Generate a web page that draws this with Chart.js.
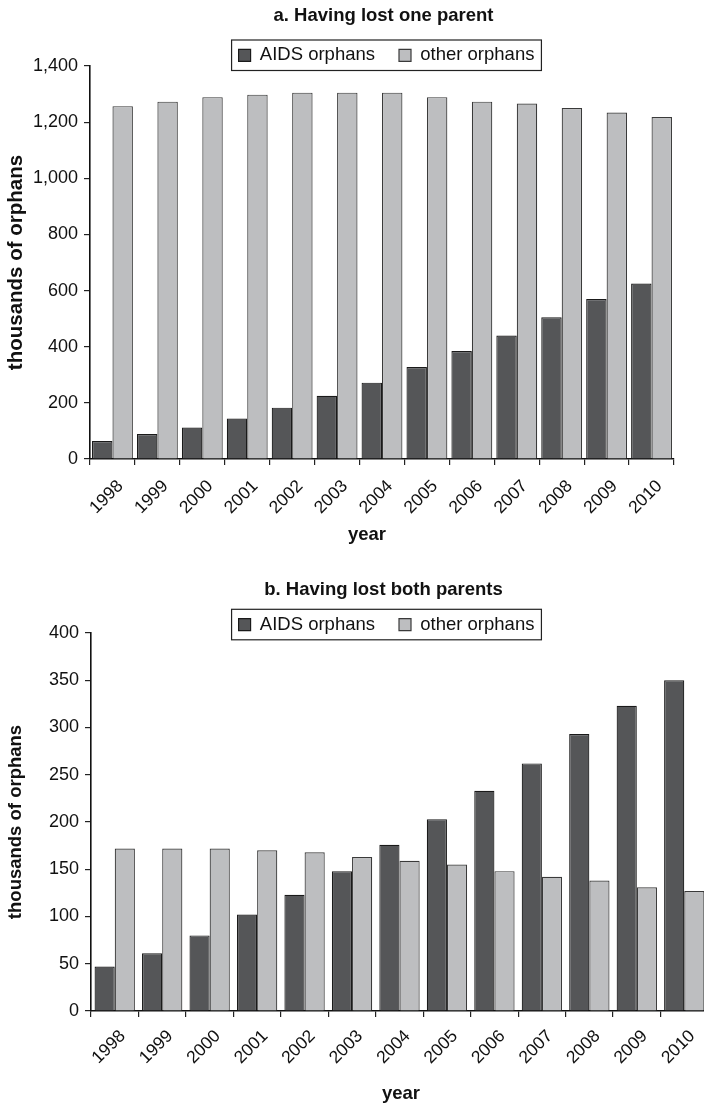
<!DOCTYPE html>
<html>
<head>
<meta charset="utf-8">
<title>Orphans, 1998–2010</title>
<script src="https://cdn.jsdelivr.net/npm/chart.js@4/dist/chart.umd.min.js"></script>
<style>
  html, body { margin: 0; padding: 0; background: #fff; overflow: hidden; }
  #wrap { position: relative; width: 704px; height: 1104px; overflow: hidden; }
  #oneParent { position: absolute; left: 0; top: 0; }
  #bothParents { position: absolute; left: 0; top: 556px; }
</style>
</head>
<body>
<div id="wrap">
  <canvas id="oneParent" width="704" height="556" style="width:704px;height:556px"></canvas>
  <canvas id="bothParents" width="720" height="548" style="width:720px;height:548px"></canvas>
</div>
<script>
// ---- data (thousands of orphans) ----
const years = ['1998', '1999', '2000', '2001', '2002', '2003', '2004',
               '2005', '2006', '2007', '2008', '2009', '2010'];
const seriesNames = ['AIDS orphans', 'other orphans'];

const aidsOneParent  = [64, 89, 112, 144, 183, 225, 272, 328, 385, 440, 505, 570, 625];
const otherOneParent = [1257, 1273, 1289, 1298, 1305, 1305, 1305, 1289, 1273, 1266, 1250, 1234, 1218];

const aidsBothParents  = [47, 61, 80, 102, 123, 148, 176, 203, 233, 262, 293, 323, 350];
const otherBothParents = [172, 172, 172, 170, 168, 163, 159, 155, 148, 142, 138, 131, 127];

const oneParentTicks   = [0, 200, 400, 600, 800, 1000, 1200, 1400];
const bothParentsTicks = [0, 50, 100, 150, 200, 250, 300, 350, 400];

const panelTitles = ['a. Having lost one parent', 'b. Having lost both parents'];
const yAxisTitle = 'thousands of orphans';
const xAxisTitle = 'year';

// ---- styling ----
const FONT = "'Liberation Sans', Arial, Helvetica, sans-serif";
const INK = '#111';
const DARK = '#555658';
const LIGHT = '#bdbec0';
const LEGEND_FONT = 18.5;
const LEGEND_GAP = 24;

Chart.defaults.font.family = FONT;
Chart.defaults.color = INK;

// Places the title and legend, draws the framed legend and the x-axis caption.
const panelDecor = {
  id: 'panelDecor',
  afterLayout(chart, args, o) {
    const t = chart.titleBlock;
    if (t) {
      const dx = o.titleX - (t.left + t.right) / 2;
      t.left += dx; t.right += dx;
    }
    const lg = chart.legend;
    if (lg) {
      const dx = o.legendX - (lg.left + lg.right) / 2;
      lg.left += dx; lg.right += dx;
      lg.top = o.legendY - LEGEND_GAP - LEGEND_FONT / 2;
      lg.bottom = o.legendY + LEGEND_FONT;
      lg.height = lg.bottom - lg.top;
      if (typeof lg.adjustHitBoxes === 'function') lg.adjustHitBoxes();
    }
  },
  afterDraw(chart, args, o) {
    const ctx = chart.ctx;
    const lg = chart.legend;
    ctx.save();
    if (lg && lg.lineWidths) {
      const w = lg.lineWidths[0] - LEGEND_GAP;
      const cx = (lg.left + lg.right) / 2;
      ctx.strokeStyle = '#222';
      ctx.lineWidth = 1.2;
      ctx.strokeRect(cx - w / 2 - o.framePad, o.frameTop, w + 2 * o.framePad, o.frameHeight);
    }
    ctx.fillStyle = INK;
    ctx.font = 'bold 18.5px ' + FONT;
    ctx.textAlign = 'center';
    ctx.textBaseline = 'middle';
    ctx.fillText(o.xCaption, o.xCaptionX, o.xCaptionY);
    ctx.restore();
  }
};

function buildPanel(canvasId, p) {
  return new Chart(document.getElementById(canvasId), {
    type: 'bar',
    data: {
      labels: years,
      datasets: [
        { label: seriesNames[0], data: p.aids, backgroundColor: DARK,
          borderColor: '#1a1a1a', borderWidth: 1.2 },
        { label: seriesNames[1], data: p.other, backgroundColor: LIGHT,
          borderColor: '#3a3a3a', borderWidth: 1.2 }
      ]
    },
    options: {
      responsive: false,
      animation: false,
      events: [],
      datasets: { bar: { categoryPercentage: p.catPct, barPercentage: 1.0 } },
      layout: { padding: { left: 0, right: p.padRight, top: 0, bottom: 0 } },
      plugins: {
        tooltip: { enabled: false },
        title: {
          display: true, text: p.title, fullSize: false, color: INK,
          font: { size: 18.5, weight: 'bold' },
          padding: { top: p.titleTop, bottom: p.titleBottom }
        },
        legend: {
          display: true, position: 'top', fullSize: false, maxHeight: 30,
          labels: {
            boxWidth: 12, boxHeight: 12, padding: LEGEND_GAP, color: INK,
            font: { size: LEGEND_FONT }
          }
        },
        panelDecor: {
          titleX: 383.5, legendX: 386.5, legendY: p.legendY,
          frameTop: p.frameTop, frameHeight: 30.5, framePad: 7,
          xCaption: xAxisTitle, xCaptionX: p.captionX, xCaptionY: p.captionY
        }
      },
      scales: {
        x: {
          grid: { display: true, drawOnChartArea: false, offset: true,
                  tickLength: 6, color: '#222', lineWidth: 1.2 },
          border: { display: true, color: '#111', width: 1.6 },
          ticks: { autoSkip: false, minRotation: 45, maxRotation: 45,
                   padding: p.xTickPad, labelOffset: 8, color: INK, font: { size: 17.5 } },
          afterFit(scale) { scale.height = p.xAxisHeight; }
        },
        y: {
          min: p.ticks[0], max: p.ticks[p.ticks.length - 1],
          afterBuildTicks(scale) { scale.ticks = p.ticks.map(v => ({ value: v })); },
          grid: { display: true, drawOnChartArea: false,
                  tickLength: 6, color: '#222', lineWidth: 1.2 },
          border: { display: true, color: '#111', width: 1.6 },
          ticks: { padding: 6, color: INK, font: { size: 18 },
                   callback: v => v.toLocaleString('en-US') },
          title: { display: true, text: yAxisTitle, color: INK,
                   font: { size: p.yTitleSize, weight: 'bold' },
                   padding: { top: p.yTitlePad, bottom: 0 } },
          afterFit(scale) { scale.width = p.yAxisWidth; }
        }
      }
    },
    plugins: [panelDecor]
  });
}

buildPanel('oneParent', {
  aids: aidsOneParent, other: otherOneParent, ticks: oneParentTicks,
  title: panelTitles[0], catPct: 0.91, padRight: 30,
  titleTop: 5, titleBottom: 8.8,
  legendY: 55.3, frameTop: 40, yAxisWidth: 90, xAxisHeight: 97, xTickPad: 11,
  yTitleSize: 20.5, yTitlePad: 3.7,
  captionX: 367, captionY: 535
});

buildPanel('bothParents', {
  aids: aidsBothParents, other: otherBothParents, ticks: bothParentsTicks,
  title: panelTitles[1], catPct: 0.85, padRight: 12,
  titleTop: 22.4, titleBottom: 2.4,
  legendY: 68.7, frameTop: 53.3, yAxisWidth: 91, xAxisHeight: 93, xTickPad: 9,
  yTitleSize: 18.5, yTitlePad: 5,
  captionX: 401, captionY: 538
});
</script>
</body>
</html>
